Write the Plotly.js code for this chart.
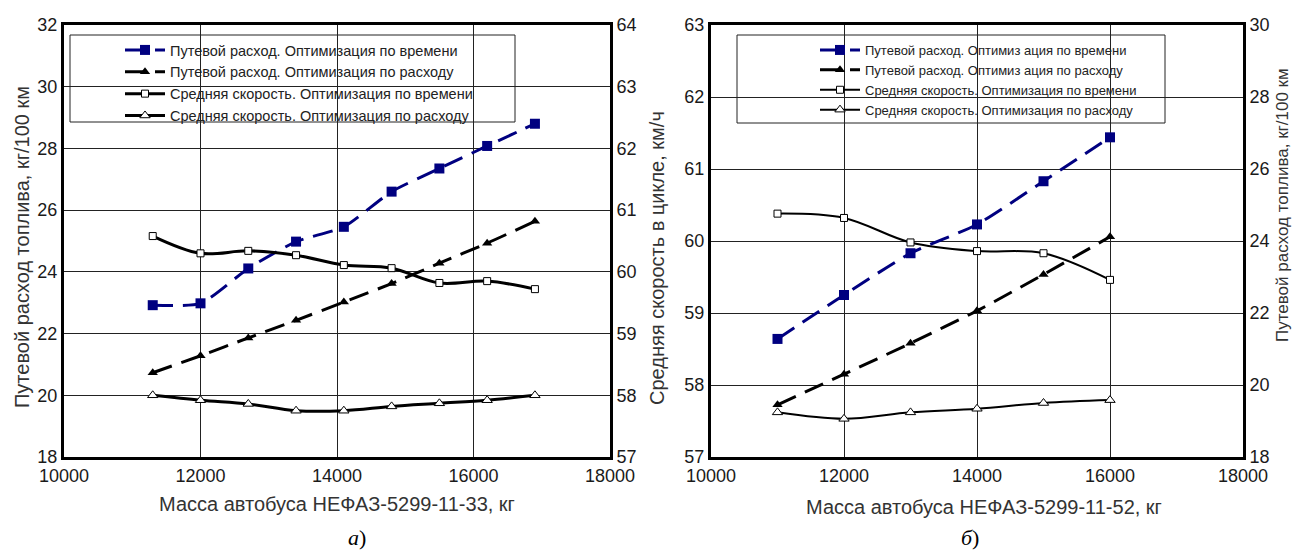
<!DOCTYPE html>
<html>
<head>
<meta charset="utf-8">
<script src="https://cdn.plot.ly/plotly-3.0.1.min.js"></script>
<style>
html,body{margin:0;padding:0;background:#fff;}
#chart{width:1293px;height:550px;}
</style>
</head>
<body>
<div id="chart"></div>
<script>
// ---- Data: chart (а) НЕФАЗ-5299-11-33 ----
const massA = [11300, 12000, 12700, 13400, 14100, 14800, 15500, 16200, 16900];
const fuelTimeA = [22.92, 22.98, 24.11, 24.98, 25.46, 26.6, 27.35, 28.08, 28.8];
const fuelFuelA = [20.73, 21.28, 21.86, 22.43, 23.02, 23.62, 24.28, 24.93, 25.64];
const speedTimeA = [60.58, 60.3, 60.34, 60.27, 60.11, 60.06, 59.82, 59.85, 59.72];
const speedFuelA = [58.0, 57.92, 57.86, 57.75, 57.75, 57.82, 57.87, 57.92, 58.0];

// ---- Data: chart (б) НЕФАЗ-5299-11-52 ----
const massB = [11000, 12000, 13000, 14000, 15000, 16000];
const fuelTimeB = [21.28, 22.5, 23.66, 24.46, 25.66, 26.88];
const fuelFuelB = [19.45, 20.3, 21.16, 22.06, 23.07, 24.12];
const speedTimeB = [60.38, 60.32, 59.98, 59.86, 59.83, 59.46];
const speedFuelB = [57.62, 57.53, 57.62, 57.67, 57.75, 57.79];

const names = [
  'Путевой расход. Оптимизация по времени',
  'Путевой расход. Оптимизация по расходу',
  'Средняя скорость. Оптимизация по времени',
  'Средняя скорость. Оптимизация по расходу'
];
const namesB = [
  'Путевой расход. Оптимиз ация по времени',
  'Путевой расход. Оптимиз ация по расходу',
  'Средняя скорость. Оптимизация по времени',
  'Средняя скорость. Оптимизация по расходу'
];

const xTicks = [10000, 12000, 14000, 16000, 18000];
const yTicksFuelA = [18, 20, 22, 24, 26, 28, 30, 32];
const yTicksSpeedA = [57, 58, 59, 60, 61, 62, 63, 64];
const yTicksSpeedB = [57, 58, 59, 60, 61, 62, 63];
const yTicksFuelB = [18, 20, 22, 24, 26, 28, 30];

const NAVY = '#000080';
const W = 1293, H = 550, T = 25, B = 457;
const px = v => v / W;
const py = v => (B - v) / (B - T);

function tr(x, y, xa, ya, leg, name, opts) {
  return Object.assign({
    x: x, y: y, xaxis: xa, yaxis: ya, legend: leg, name: name,
    type: 'scatter', mode: 'lines+markers'
  }, opts);
}

const blueStyle = {line: {color: NAVY, width: 3, dash: '20px,10px', shape: 'spline', smoothing: 0.6},
  marker: {symbol: 'square', size: 10, color: NAVY}};
const blackDash = {line: {color: '#000', width: 3, dash: '20px,10px', shape: 'spline', smoothing: 0.6},
  marker: {symbol: 'triangle-up', size: 9, color: '#000'}};
const sqOpen = w => ({line: {color: '#000', width: w, shape: 'spline', smoothing: 1},
  marker: {symbol: 'square', size: 7, color: '#fff', line: {color: '#000', width: 1}}});
const triOpen = w => ({line: {color: '#000', width: w, shape: 'spline', smoothing: 1},
  marker: {symbol: 'triangle-up', size: 9, color: '#fff', line: {color: '#000', width: 1}}});

const data = [
  tr(massA, fuelTimeA, 'x', 'y', 'legend', names[0], blueStyle),
  tr(massA, fuelFuelA, 'x', 'y', 'legend', names[1], blackDash),
  tr(massA, speedTimeA, 'x', 'y2', 'legend', names[2], sqOpen(3)),
  tr(massA, speedFuelA, 'x', 'y2', 'legend', names[3], triOpen(3)),
  tr(massB, fuelTimeB, 'x2', 'y4', 'legend2', namesB[0], blueStyle),
  tr(massB, fuelFuelB, 'x2', 'y4', 'legend2', namesB[1], blackDash),
  tr(massB, speedTimeB, 'x2', 'y3', 'legend2', namesB[2], sqOpen(2)),
  tr(massB, speedFuelB, 'x2', 'y3', 'legend2', namesB[3], triOpen(2))
];

const tickFont = {family: 'Liberation Sans, Arial, sans-serif', size: 18, color: '#1a1a1a'};
const axBase = {
  showline: true, linecolor: '#000', linewidth: 3, mirror: true,
  showgrid: true, gridcolor: '#222', gridwidth: 1,
  zeroline: false, ticks: '', tickfont: tickFont, fixedrange: true
};

const legFontA = {family: 'Liberation Sans, Arial, sans-serif', size: 14.5, color: '#222'};
const legFontB = {family: 'Liberation Sans, Arial, sans-serif', size: 13, color: '#222'};
const annFont = (s, c) => ({family: 'Liberation Sans, Arial, sans-serif', size: s, color: c || '#333'});

function ann(text, x, y, font, angle) {
  return {text: text, xref: 'paper', yref: 'paper', x: px(x), y: py(y), xanchor: 'center',
    yanchor: 'middle', textangle: angle || 0, showarrow: false, font: font};
}

const layout = {
  width: W, height: H,
  margin: {l: 0, r: 0, t: T, b: H - B},
  paper_bgcolor: '#fff', plot_bgcolor: '#fff',
  showlegend: true,
  xaxis: Object.assign({}, axBase, {domain: [px(64), px(610)], range: [10000, 18000],
    tickvals: xTicks, ticktext: xTicks.map(String), anchor: 'y'}),
  yaxis: Object.assign({}, axBase, {range: [18, 32], tickvals: yTicksFuelA, anchor: 'x'}),
  yaxis2: Object.assign({}, axBase, {range: [57, 64], tickvals: yTicksSpeedA, overlaying: 'y',
    side: 'right', anchor: 'x', showgrid: false}),
  xaxis2: Object.assign({}, axBase, {domain: [px(711), px(1243)], range: [10000, 18000],
    tickvals: xTicks, ticktext: xTicks.map(String), anchor: 'y3'}),
  yaxis3: Object.assign({}, axBase, {range: [57, 63], tickvals: yTicksSpeedB, anchor: 'x2'}),
  yaxis4: Object.assign({}, axBase, {range: [18, 30], tickvals: yTicksFuelB, overlaying: 'y3',
    side: 'right', anchor: 'x2', showgrid: false}),
  legend: {x: px(120), xanchor: 'left', y: py(34), yanchor: 'top', bgcolor: 'rgba(0,0,0,0)',
    borderwidth: 0, font: legFontA, tracegroupgap: 0, itemwidth: 40},
  legend2: {x: px(815), xanchor: 'left', y: py(35), yanchor: 'top', bgcolor: 'rgba(0,0,0,0)',
    borderwidth: 0, font: legFontB, tracegroupgap: 0, itemwidth: 40},
  shapes: [
    {type: 'rect', xref: 'paper', yref: 'paper', x0: px(70), x1: px(515), y0: py(35), y1: py(122),
      line: {color: '#222', width: 1}, fillcolor: '#fff', layer: 'below'},
    {type: 'rect', xref: 'paper', yref: 'paper', x0: px(737), x1: px(1165), y0: py(35), y1: py(123),
      line: {color: '#222', width: 1}, fillcolor: '#fff', layer: 'below'}
  ],
  annotations: [
    ann('Путевой расход топлива, кг/100 км', 22, 247, annFont(20), -90),
    ann('Средняя скорость в цикле, км/ч', 657, 258, annFont(20), -90),
    ann('Путевой расход топлива, кг/100 км', 1283, 205, annFont(17), -90),
    ann('Масса автобуса НЕФАЗ-5299-11-33, кг', 337, 504, annFont(20)),
    ann('Масса автобуса НЕФАЗ-5299-11-52, кг', 984, 507, annFont(20)),
    ann('<i>а</i>)', 357, 537, {family: 'Liberation Serif, Times New Roman, serif', size: 22, color: '#000'}),
    ann('<i>б</i>)', 970, 537, {family: 'Liberation Serif, Times New Roman, serif', size: 22, color: '#000'})
  ]
};

Plotly.newPlot('chart', data, layout, {displayModeBar: false, staticPlot: true});
</script>
</body>
</html>
